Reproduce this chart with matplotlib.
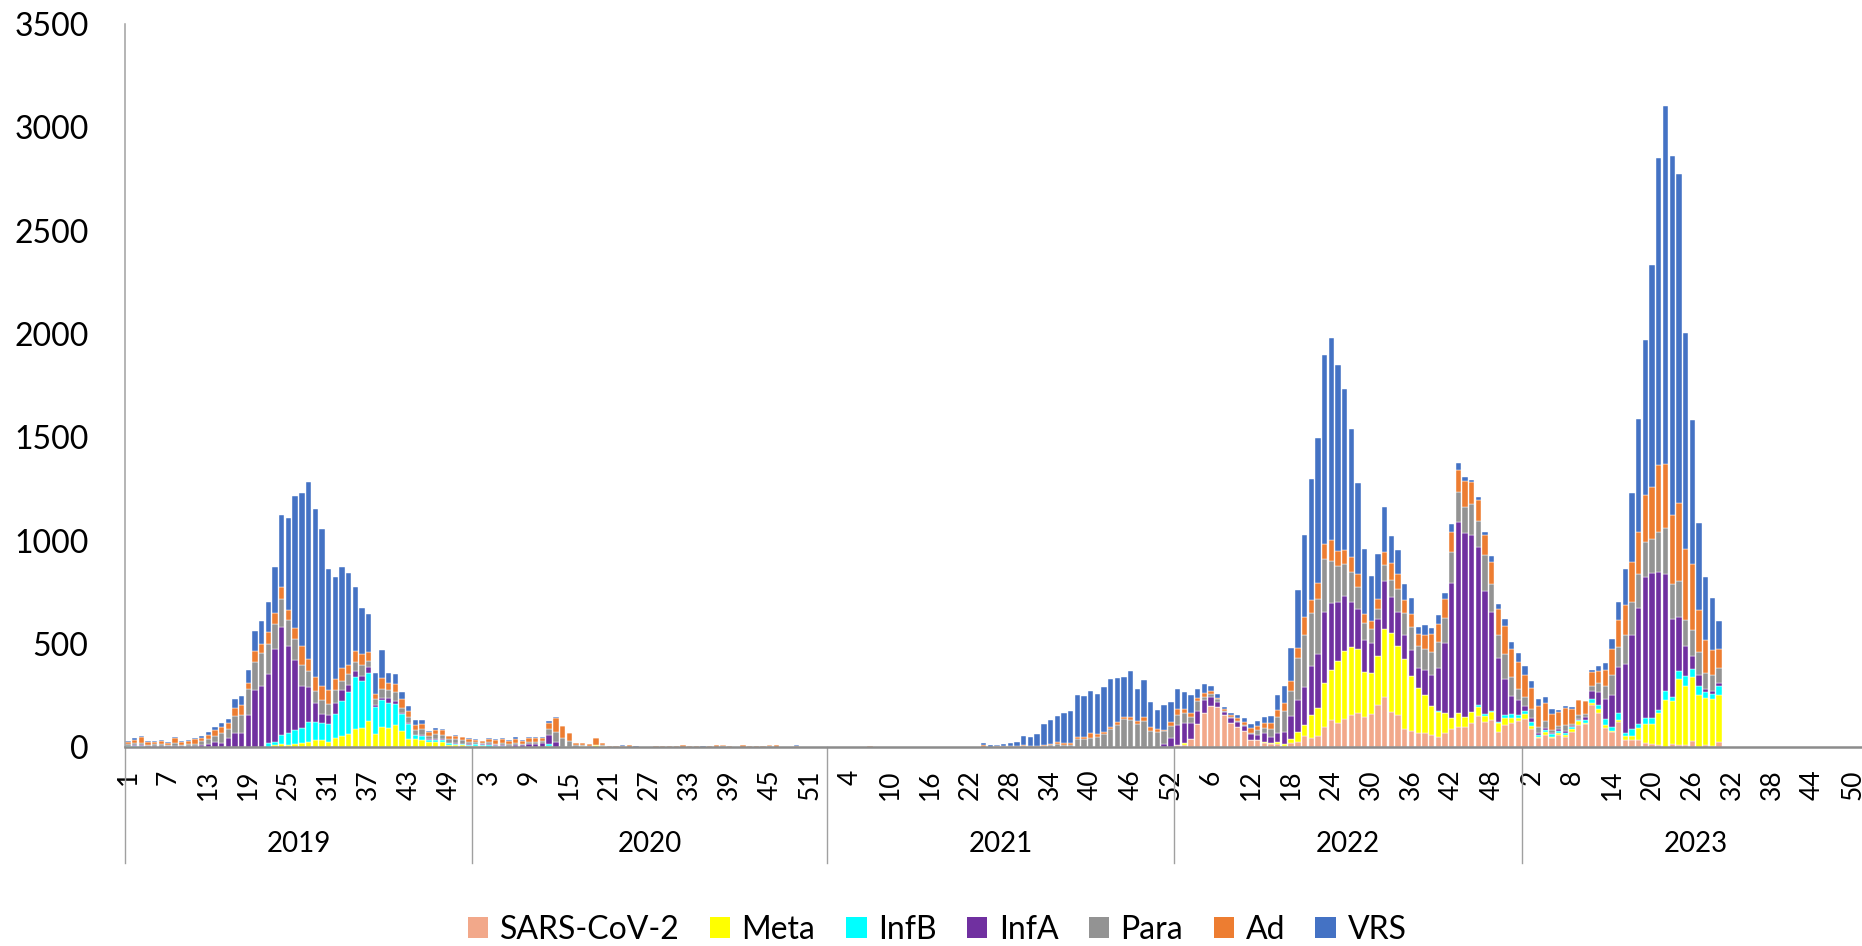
import numpy as np
import matplotlib
matplotlib.use("Agg")
import matplotlib.pyplot as plt
from matplotlib.patches import Patch
import matplotlib.transforms as mtransforms

plt.rcParams['font.family'] = ['Lato', 'DejaVu Sans']

years = [2019, 2020, 2021, 2022, 2023]
weeks_per_year = [52, 53, 52, 52, 52]

series_names = ["SARS-CoV-2", "Meta", "InfB", "InfA", "Para", "Ad", "VRS"]
series_colors = ["#F2A88A", "#FFFF00", "#00FFFF", "#7030A0", "#939393", "#ED7D31", "#4472C4"]

# ---- values per series, concatenated per year (2019 | 2020 | 2021 | 2022 | 2023) ----
sars = (
    [0] * 52 +
    [0] * 27 + [2] + [0] * 25 +
    [0] * 6 + [3] + [0] * 45 +
    [11, 13, 41, 113, 165, 201, 194, 157, 120, 100, 78, 35, 36, 23, 15, 15, 8, 23, 28, 57,
     47, 55, 97, 130, 120, 136, 157, 168, 146, 162, 203, 246, 173, 157, 89, 81, 68, 68, 60, 52,
     68, 87, 97, 100, 120, 154, 125, 133, 76, 109, 120, 128] +
    [138, 87, 44, 60, 44, 60, 52, 76, 109, 112, 203, 165, 96, 73, 125, 36, 36, 36, 23, 16,
     11, 3, 16, 11, 11, 31, 3, 11, 6, 28] + [0] * 22
)
meta = (
    [0, 0, 2, 0, 0, 0, 0, 0, 0, 0, 0, 0, 0, 0, 0, 0, 0, 0, 0, 0, 0, 0, 11, 16, 10, 16, 19, 28, 36, 36,
     28, 44, 57, 65, 87, 92, 128, 63, 100, 96, 109, 79, 39, 39, 36, 28, 28, 28, 12, 12, 10, 8] +
    [8, 5, 3, 2, 2, 2, 0, 0, 0, 0, 0, 5, 3, 0, 0, 3, 6, 0, 10, 8] + [0] * 24 + [3] + [0] * 8 +
    [0] * 45 + [3] + [0] * 6 +
    [0, 6, 0, 0, 0, 0, 0, 0, 0, 0, 2, 0, 0, 5, 5, 13, 8, 18, 44, 52,
     110, 134, 214, 246, 300, 329, 329, 309, 219, 198, 238, 329, 381, 335, 339, 266, 219, 186, 138, 117,
     97, 57, 68, 45, 49, 41, 29, 36, 41, 32, 24, 16] +
    [24, 18, 8, 15, 8, 8, 8, 11, 18, 8, 11, 19, 10, 6, 8, 19, 19, 60, 91, 97,
     154, 227, 206, 319, 288, 309, 251, 230, 227, 227] + [0] * 22
)
infb = (
    [5, 6, 5, 0, 0, 0, 0, 0, 0, 0, 0, 3, 0, 0, 0, 0, 0, 0, 0, 2, 0, 19, 16, 44, 58, 68, 73, 94, 86, 81,
     84, 117, 168, 201, 251, 230, 232, 134, 130, 118, 102, 81, 74, 21, 21, 8, 8, 8, 8, 5, 5, 4] +
    [6, 5, 6, 3, 3, 2, 2, 0, 2, 0, 2, 10] + [0] * 41 +
    [0] * 52 +
    [0] * 39 + [5, 0, 0, 0, 0, 0, 8, 8, 8, 8, 16, 15, 13] +
    [16, 19, 8, 10, 11, 13, 11, 10, 3, 10, 19, 21, 32, 21, 32, 16, 32, 16, 28, 28,
     16, 41, 24, 41, 44, 39, 41, 29, 24, 41] + [0] * 22
)
infa = (
    [3, 4, 4, 5, 6, 6, 5, 6, 5, 6, 6, 10, 16, 28, 23, 44, 68, 71, 157, 275,
     295, 334, 449, 522, 421, 337, 203, 170, 92, 44, 45, 53, 53, 37, 29, 21, 28, 6, 11, 24,
     11, 8, 4, 2, 3, 3, 6, 2, 2, 4, 3, 3] +
    [4, 4, 6, 5, 6, 4, 8, 10, 12, 15, 18, 47, 21] + [0] * 40 +
    [0] * 50 + [16, 47] +
    [97, 97, 76, 65, 62, 45, 24, 16, 24, 21, 21, 28, 24, 40, 32, 40, 60, 109, 159, 181,
     235, 264, 343, 324, 283, 267, 217, 193, 152, 146, 178, 230, 173, 162, 118, 123, 97, 122, 154, 211,
     340, 653, 923, 894, 859, 768, 595, 478, 305, 173, 91, 70] +
    [23, 19, 8, 8, 5, 6, 10, 8, 8, 16, 41, 65, 97, 154, 222, 332, 458, 561, 684, 701,
     669, 567, 373, 259, 146, 62, 57, 11, 18, 16] + [0] * 22
)
para = (
    [8, 10, 10, 8, 8, 10, 8, 16, 8, 10, 12, 18, 23, 28, 45, 44, 84, 86, 125, 138,
     162, 146, 122, 134, 125, 105, 105, 79, 60, 70, 52, 65, 45, 52, 44, 57, 29, 29, 42, 40,
     45, 24, 29, 24, 28, 18, 21, 21, 16, 18, 16, 12] +
    [8, 8, 10, 8, 10, 8, 12, 8, 12, 12, 10, 29, 49, 47, 31, 6, 3, 5, 3, 3,
     2, 2, 2, 3, 0, 0, 0, 2, 3, 0, 2, 2, 3, 0, 0, 2, 2, 5, 2, 0,
     2, 3, 3, 2, 3, 2, 0, 0, 0, 0, 0, 0, 0] +
    [0] * 23 + [3, 0, 2, 3, 3, 3, 5, 3, 3, 8, 10, 16, 11, 10, 39, 42, 47, 52, 63, 89,
                109, 138, 131, 115, 126, 81, 76, 63, 57] +
    [49, 49, 29, 44, 16, 13, 15, 5, 5, 6, 8, 5, 24, 28, 37, 81, 102, 125, 203, 256,
     259, 266, 259, 204, 175, 157, 146, 105, 83, 65, 52, 79, 84, 113, 105, 113, 105, 100, 109, 125,
     122, 149, 146, 126, 151, 122, 173, 134, 113, 122, 89, 55] +
    [45, 41, 32, 36, 16, 16, 28, 8, 19, 16, 21, 41, 60, 94, 97, 139, 157, 168, 167, 168,
     193, 224, 170, 175, 126, 125, 110, 78, 76, 73] + [0] * 22
)
ad = (
    [12, 16, 28, 12, 12, 14, 10, 24, 12, 15, 20, 16, 21, 26, 29, 29, 37, 49, 29, 52,
     45, 57, 50, 62, 49, 52, 89, 58, 65, 65, 70, 52, 60, 45, 57, 52, 42, 26, 52, 32,
     39, 41, 32, 24, 24, 15, 21, 24, 16, 16, 16, 14] +
    [10, 8, 15, 18, 18, 16, 20, 15, 18, 18, 15, 28, 70, 58, 37, 10, 10, 10, 32, 10,
     6, 6, 6, 8, 0, 0, 0, 2, 3, 5, 6, 8, 2, 5, 0, 6, 8, 5, 6, 0,
     8, 2, 2, 6, 4, 8, 0, 0, 6, 0, 0, 0, 0] +
    [0] * 6 + [3] + [0] * 16 + [8, 3, 3, 3, 3, 5, 8, 5, 3, 5, 8, 11, 8, 10, 13, 10, 21, 13, 10, 8,
                                15, 11, 15, 13, 23, 16, 11, 5, 21] +
    [28, 19, 19, 16, 19, 15, 8, 8, 8, 13, 16, 24, 19, 21, 28, 32, 36, 45, 49, 86,
     60, 78, 70, 97, 70, 66, 70, 65, 44, 41, 49, 63, 79, 73, 60, 60, 60, 70, 86, 86,
     92, 97, 109, 122, 105, 105, 97, 110, 125, 134, 138, 130] +
    [105, 105, 102, 86, 78, 66, 81, 73, 73, 60, 70, 60, 81, 128, 131, 149, 194, 199, 227, 248,
     321, 308, 337, 377, 343, 321, 201, 162, 122, 89] + [0] * 22
)
vrs = (
    [5, 8, 6, 5, 6, 6, 5, 6, 5, 6, 7, 8, 16, 15, 19, 19, 44, 44, 65, 94,
     109, 149, 227, 347, 447, 637, 742, 857, 815, 761, 583, 494, 491, 442, 309, 224, 185, 104, 138, 52,
     47, 37, 23, 24, 21, 8, 11, 8, 3, 3, 2, 2] +
    [3, 2, 4, 3, 5, 4, 7, 3, 5, 5, 5, 8, 3, 0, 0, 0, 0, 0, 0, 2,
     0, 0, 2, 2, 5, 0, 0, 0, 2, 0, 0, 0, 0, 0, 5, 0, 0, 0, 0, 0,
     0, 0, 0, 0, 0, 0, 0, 0, 4, 0, 0, 0, 0] +
    [0] * 13 + [4, 4, 0, 4, 0, 4, 4, 4, 4, 4, 8, 7, 8, 12, 13, 18, 42, 41, 60, 100,
                115, 125, 146, 155, 202, 197, 207, 194, 219, 233, 213, 191, 220, 154, 178, 120, 94, 120, 95] +
    [99, 83, 89, 45, 45, 24, 16, 11, 8, 15, 15, 21, 23, 28, 36, 73, 84, 159, 280, 395,
     586, 700, 915, 982, 902, 781, 622, 439, 316, 219, 215, 214, 133, 113, 78, 81, 32, 45, 32, 44,
     26, 37, 34, 19, 10, 11, 16, 28, 24, 36, 34, 45] +
    [41, 34, 31, 28, 24, 11, 11, 11, 0, 0, 8, 24, 32, 50, 89, 173, 334, 551, 750, 1077,
     1490, 1733, 1737, 1594, 1048, 697, 421, 303, 248, 135] + [0] * 22
)

y_ticks = [0, 500, 1000, 1500, 2000, 2500, 3000, 3500]

# ---- build categories ----
week_labels = []
for n in weeks_per_year:
    week_labels += [str(w) for w in range(1, n + 1)]
n_cat = len(week_labels)
x = np.arange(n_cat)

data = [sars, meta, infb, infa, para, ad, vrs]

fig = plt.figure(figsize=(18.62, 9.46), dpi=100)
ax = fig.add_axes([0.06697, 0.2100, 0.9370, 0.7646])

bottom = np.zeros(n_cat)
for vals, name, col in zip(data, series_names, series_colors):
    v = np.array(vals, dtype=float)
    assert len(v) == n_cat, (name, len(v))
    ax.bar(x, v, width=0.8, bottom=bottom, color=col, edgecolor='white', linewidth=0.3, label=name)
    bottom += v

ax.set_xlim(-0.5, n_cat - 0.5)
ax.set_ylim(0, 3500)
ax.set_yticks(y_ticks)
ax.set_yticklabels([str(t) for t in y_ticks], fontsize=23)
ax.tick_params(axis='y', length=0, pad=26)

tick_idx = x[::6]
ax.set_xticks(tick_idx)
ax.set_xticklabels([week_labels[i] for i in tick_idx], rotation=90, fontsize=19)
ax.tick_params(axis='x', length=0, pad=16)

for s in ['top', 'right']:
    ax.spines[s].set_visible(False)
ax.spines['left'].set_color('#A0A0A0')
ax.spines['left'].set_linewidth(1.1)
ax.spines['bottom'].set_color('#8C8C8C')
ax.spines['bottom'].set_linewidth(1.8)

# year group labels and dividers
trans = mtransforms.blended_transform_factory(ax.transData, ax.transAxes)
bounds = np.concatenate([[0], np.cumsum(weeks_per_year)]) - 0.5
for b in bounds:
    ax.plot([b, b], [0, -0.16], transform=trans, color='#A0A0A0', lw=1.0, clip_on=False)
for i, yr in enumerate(years):
    cx = (bounds[i] + bounds[i + 1]) / 2
    ax.text(cx, -0.1337, str(yr), transform=trans, ha='center', va='center', fontsize=20)

handles = [Patch(facecolor=c, edgecolor='none', label=n) for n, c in zip(series_names, series_colors)]
fig.legend(handles=handles, loc='center', bbox_to_anchor=(937 / 1862, 16 / 946), ncol=7,
           frameon=False, fontsize=23, handlelength=0.65, handleheight=0.65,
           handletextpad=0.35, columnspacing=0.95, borderaxespad=0)

fig.savefig('out.png', dpi=100)
